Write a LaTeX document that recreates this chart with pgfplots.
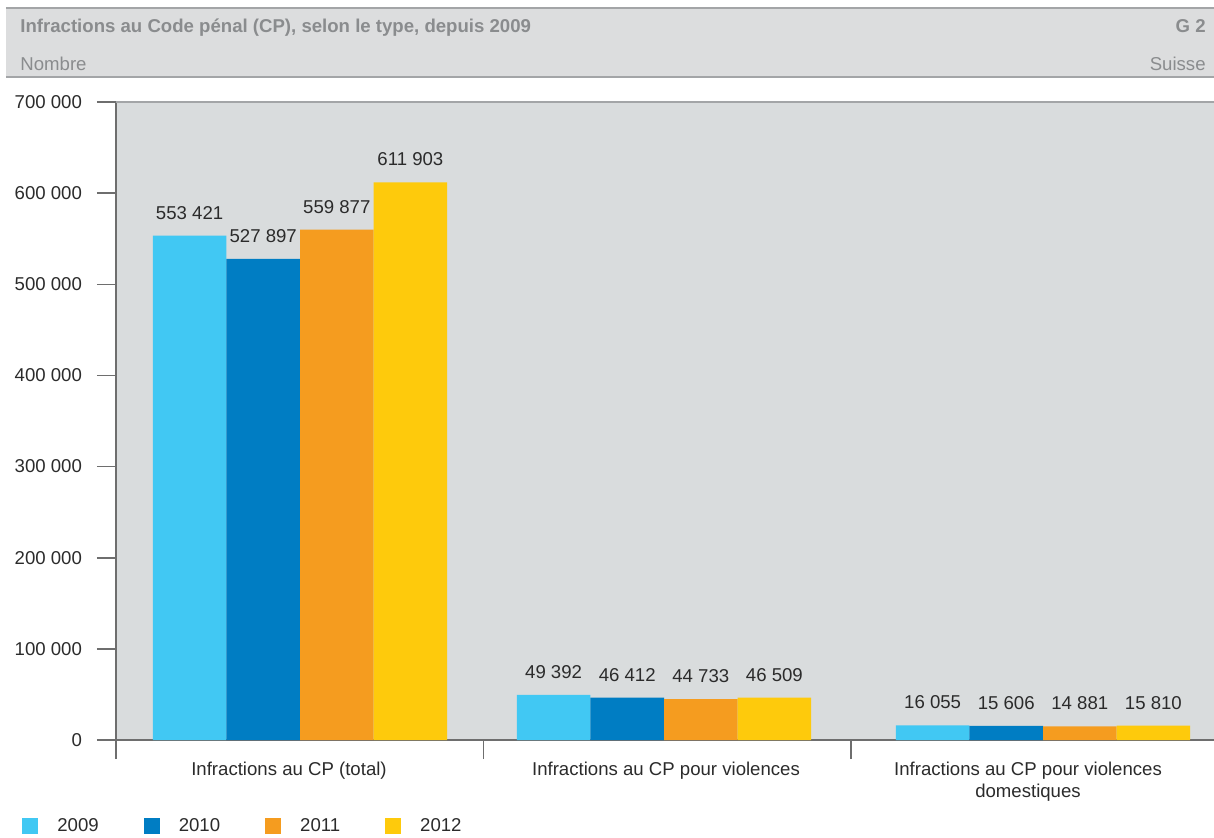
\documentclass[border=0pt]{standalone}
\usepackage{pgfplots}
\pgfplotsset{compat=1.18}
\usepackage{fontspec}
\setmainfont{Liberation Sans}
\definecolor{c09}{HTML}{41C8F3}
\definecolor{c10}{HTML}{007DC3}
\definecolor{c11}{HTML}{F59C1F}
\definecolor{c12}{HTML}{FECA0C}
\definecolor{plotbg}{HTML}{D9DCDD}
\definecolor{headbg}{HTML}{DCDDDE}
\definecolor{headline}{HTML}{A3A5A7}
\definecolor{headtext}{HTML}{8A8C8E}
\definecolor{axisgray}{HTML}{6E6E6E}
\definecolor{txt}{HTML}{2B2B2B}
\begin{document}
\begin{tikzpicture}
\useasboundingbox (-58pt,-48.5pt) rectangle (549pt,370pt);
% header band
\fill[headbg] (-55pt,366pt) rectangle (549pt,331.5pt);
\draw[headline, line width=0.8pt] (-55pt,366pt) -- (549pt,366pt);
\draw[headline, line width=0.8pt] (-55pt,331.5pt) -- (549pt,331.5pt);
\node[anchor=base west, inner sep=0pt, text=headtext, font=\fontsize{9.3}{11}\selectfont\bfseries] at (-48pt,353.5pt) {Infractions au Code pénal (CP), selon le type, depuis 2009};
\node[anchor=base east, inner sep=0pt, text=headtext, font=\fontsize{9.3}{11}\selectfont\bfseries] at (545pt,353.5pt) {G 2};
\node[anchor=base west, inner sep=0pt, text=headtext, font=\fontsize{9.3}{11}\selectfont] at (-48pt,334.5pt) {Nombre};
\node[anchor=base east, inner sep=0pt, text=headtext, font=\fontsize{9.3}{11}\selectfont] at (545pt,334.5pt) {Suisse};
\begin{axis}[
  at={(0pt,0pt)}, anchor=south west,
  scale only axis, width=549pt, height=319pt,
  xmin=116, xmax=1214, ymin=0, ymax=700000,
  axis x line*=bottom, axis y line*=left,
  axis line style={draw=axisgray, line width=0.8pt, -},
  axis background/.style={fill=plotbg},
  ybar=0pt, bar width=36.8pt,
  xtick={116,483.5,851}, xticklabels={},
  xtick align=outside, ytick align=outside,
  major tick length=9.5pt,
  tick style={draw=axisgray, line width=0.8pt},
  extra x ticks={289,666,1028},
  extra x tick labels={Infractions au CP (total),Infractions au CP pour violences,{Infractions au CP pour violences\\domestiques}},
  extra x tick style={major tick length=0pt, tick style={draw=none}},
  xticklabel style={align=center, text=txt, font=\fontsize{9.3}{11}\selectfont, yshift=-7.5pt},
  ytick={0,100000,200000,300000,400000,500000,600000,700000},
  scaled y ticks=false,
  yticklabel={\pgfmathprintnumber[fixed,precision=0,assume math mode=true,1000 sep={\ }]{\tick}},
  yticklabel style={text=txt, font=\fontsize{9.3}{11}\selectfont, xshift=-4pt},
  nodes near coords={\pgfmathprintnumber[fixed,precision=0,assume math mode=true,1000 sep={\ }]{\pgfplotspointmeta}},
  every node near coord/.append style={anchor=south, inner sep=0pt, yshift=8pt, text=txt, font=\fontsize{9.3}{11}\selectfont},
  clip=false,
  legend columns=4,
  legend style={at={(-0.0856,-0.1348)}, anchor=west, draw=none, fill=none, inner sep=0pt,
    font=\fontsize{9.3}{11}\selectfont, text=txt,
    /tikz/every odd column/.style={column sep=7.5pt},
    /tikz/every even column/.style={column sep=20.5pt}},
  legend image code/.code={\fill[#1] (0pt,-4pt) rectangle (8pt,4pt);},
]
\addplot[fill=c09, draw=none] coordinates {(300,553421) (664,49392) (1043,16055)};
\addplot[fill=c10, draw=none] coordinates {(300,527897) (664,46412) (1043,15606)};
\addplot[fill=c11, draw=none] coordinates {(300,559877) (664,44733) (1043,14881)};
\addplot[fill=c12, draw=none] coordinates {(300,611903) (664,46509) (1043,15810)};
\legend{2009,2010,2011,2012}
\draw[headline, line width=1pt] (rel axis cs:0,1) -- (rel axis cs:1,1);
\end{axis}
\end{tikzpicture}
\end{document}
